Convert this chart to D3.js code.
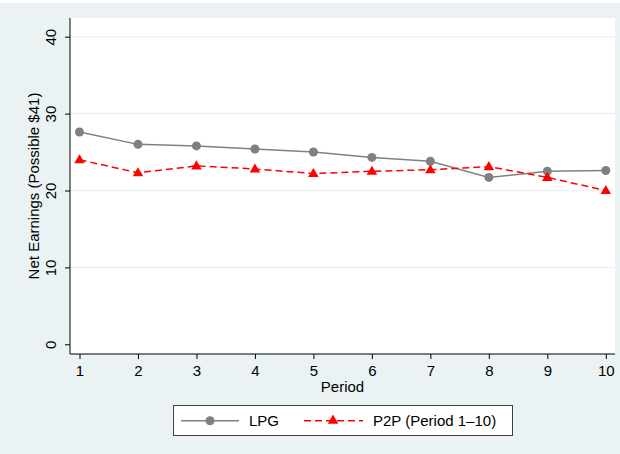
<!DOCTYPE html>
<html>
<head>
<meta charset="utf-8">
<script src="https://cdn.jsdelivr.net/npm/d3@7"></script>
<style>
  body { margin: 0; background: #fff; }
  svg { display: block; font-family: "Liberation Sans", Arial, sans-serif; }
</style>
</head>
<body>
<svg width="620" height="454"></svg>
<script>
// data
const periods = [1, 2, 3, 4, 5, 6, 7, 8, 9, 10];
const lpg = [27.6, 26.0, 25.8, 25.4, 25.0, 24.3, 23.8, 21.7, 22.5, 22.6];
const p2p = [24.0, 22.3, 23.2, 22.8, 22.2, 22.5, 22.7, 23.1, 21.7, 20.0];
const yTicks = [0, 10, 20, 30, 40];
const seriesNames = ['LPG', 'P2P (Period 1\u201310)'];

const svg = d3.select('svg');
const width = +svg.attr('width');
const height = +svg.attr('height');

// light background, white strip at top
svg.append('rect')
    .attr('width', width)
    .attr('height', height)
    .attr('fill', '#eaf2f3');
svg.append('rect')
    .attr('width', width)
    .attr('height', 3)
    .attr('fill', '#fff');

const plotLeft = 70, plotRight = 615, plotTop = 18, plotBottom = 354;

svg.append('rect')
    .attr('x', plotLeft)
    .attr('y', plotTop)
    .attr('width', plotRight - plotLeft)
    .attr('height', plotBottom - plotTop)
    .attr('fill', '#fff');

const x = d3.scaleLinear().domain([1, 10]).range([79.5, 605.8]);
const y = d3.scaleLinear().domain([0, 40]).range([344.3, 36.7]);

// gridlines
svg.append('g')
    .selectAll('line')
    .data(yTicks.filter(d => d > 0))
    .join('line')
    .attr('x1', plotLeft)
    .attr('x2', plotRight)
    .attr('y1', d => y(d))
    .attr('y2', d => y(d))
    .attr('stroke', '#eaf2f3')
    .attr('stroke-width', 1.5);

// x axis
const xAxis = svg.append('g')
    .attr('transform', `translate(0,${plotBottom})`)
    .call(d3.axisBottom(x).tickValues(periods).tickFormat(d3.format('d')).tickSize(5).tickSizeOuter(0));
xAxis.select('.domain').attr('d', `M${plotLeft},0H${plotRight}`).attr('stroke', '#000');
xAxis.selectAll('text').attr('font-size', 15).attr('font-family', null).attr('fill', '#000').attr('dy', '0.95em');
xAxis.selectAll('line').attr('stroke', '#000');

// y axis
const yAxis = svg.append('g')
    .attr('transform', `translate(${plotLeft},0)`)
    .call(d3.axisLeft(y).tickValues(yTicks).tickSize(5).tickSizeOuter(0));
yAxis.select('.domain').attr('d', `M0,${plotTop}V${plotBottom}`).attr('stroke', '#000');
yAxis.selectAll('line').attr('stroke', '#000');
yAxis.selectAll('text')
    .attr('font-size', 15)
    .attr('font-family', null)
    .attr('fill', '#000')
    .attr('x', null)
    .attr('dy', null)
    .attr('text-anchor', 'middle')
    .attr('transform', 'translate(-14,0) rotate(-90)');

// axis titles
svg.append('text')
    .attr('x', (plotLeft + plotRight) / 2 + 0)
    .attr('y', 392)
    .attr('text-anchor', 'middle')
    .attr('font-size', 15)
    .text('Period');

svg.append('text')
    .attr('transform', `translate(38.5,${(plotTop + plotBottom) / 2}) rotate(-90)`)
    .attr('text-anchor', 'middle')
    .attr('font-size', 15)
    .text('Net Earnings (Possible $41)');

// series
const lpgColor = '#808080';
const p2pColor = '#ff0000';
const line = d3.line().x(d => x(d[0])).y(d => y(d[1]));
const tri = d3.symbol().type(d3.symbolTriangle).size(48);

svg.append('path')
    .datum(d3.zip(periods, lpg))
    .attr('d', line)
    .attr('fill', 'none')
    .attr('stroke', lpgColor)
    .attr('stroke-width', 1.5);

svg.append('g')
    .selectAll('circle')
    .data(d3.zip(periods, lpg))
    .join('circle')
    .attr('cx', d => x(d[0]))
    .attr('cy', d => y(d[1]))
    .attr('r', 4.5)
    .attr('fill', lpgColor);

svg.append('path')
    .datum(d3.zip(periods, p2p))
    .attr('d', line)
    .attr('fill', 'none')
    .attr('stroke', p2pColor)
    .attr('stroke-width', 1.5)
    .attr('stroke-dasharray', '7,4');

svg.append('g')
    .selectAll('path')
    .data(d3.zip(periods, p2p))
    .join('path')
    .attr('d', tri)
    .attr('transform', d => `translate(${x(d[0])},${y(d[1]) + 0.5})`)
    .attr('fill', p2pColor);

// legend
const legend = svg.append('g');
legend.append('rect')
    .attr('x', 173.5)
    .attr('y', 405.5)
    .attr('width', 339)
    .attr('height', 30)
    .attr('fill', '#fff')
    .attr('stroke', '#404040')
    .attr('stroke-width', 1);

const ly = 420.7;
legend.append('line')
    .attr('x1', 181).attr('x2', 239)
    .attr('y1', ly).attr('y2', ly)
    .attr('stroke', lpgColor)
    .attr('stroke-width', 1.5);
legend.append('circle')
    .attr('cx', 210).attr('cy', ly)
    .attr('r', 4.5)
    .attr('fill', lpgColor);
legend.append('text')
    .attr('x', 249).attr('y', ly + 5.5)
    .attr('font-size', 15)
    .text(seriesNames[0]);

legend.append('line')
    .attr('x1', 304).attr('x2', 363)
    .attr('y1', ly).attr('y2', ly)
    .attr('stroke', p2pColor)
    .attr('stroke-width', 1.5)
    .attr('stroke-dasharray', '7,4');
legend.append('path')
    .attr('d', tri)
    .attr('transform', `translate(333,${ly})`)
    .attr('fill', p2pColor);
legend.append('text')
    .attr('x', 373).attr('y', ly + 5.5)
    .attr('font-size', 15)
    .text(seriesNames[1]);
</script>
</body>
</html>
